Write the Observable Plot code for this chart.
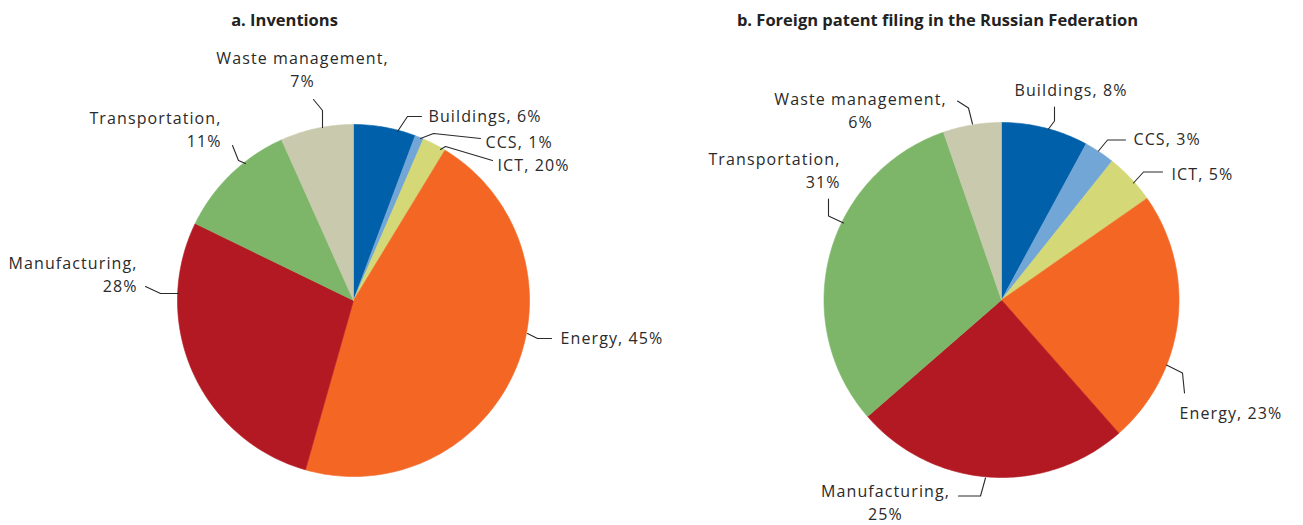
<!DOCTYPE html>
<html>
<head>
<meta charset="utf-8">
<script src="https://cdn.jsdelivr.net/npm/d3@7"></script>
<script src="https://cdn.jsdelivr.net/npm/@observablehq/plot@0.6"></script>
<style>
  html, body { margin: 0; padding: 0; background: #fff; }
  #chart svg text { letter-spacing: 1.1px; }
  #chart svg text.panel-title { letter-spacing: 0; }
</style>
</head>
<body>
<div id="chart"></div>
<script>
// ---------- data ----------
const categories = ["Buildings", "CCS", "ICT", "Energy", "Manufacturing", "Transportation", "Waste management"];
const colors = ["#0060a9", "#72a6d7", "#d4d877", "#f36624", "#b31922", "#7db669", "#c8c9ad"];

const panelTitles = ["a. Inventions", "b. Foreign patent filing in the Russian Federation"];

// shares (percent)
const inventionsShare = [5.7, 0.8, 2.2, 45.7, 27.8, 11.1, 6.7];
const russiaShare     = [7.9, 2.8, 4.6, 23.2, 25.1, 31.1, 5.3];

// printed labels (as in the original, incl. "ICT, 20%")
const inventionsLabels = ["6%", "1%", "20%", "45%", "28%", "11%", "7%"];
const russiaLabels     = ["8%", "3%", "5%", "23%", "25%", "31%", "6%"];

// ---------- layout ----------
const W = 1303, H = 525;
const pies = [
  {cx: 353, cy: 300, r: 176, titleX: 284, share: inventionsShare, labels: inventionsLabels},
  {cx: 1001, cy: 299.5, r: 177.5, titleX: 937, share: russiaShare, labels: russiaLabels}
];
// label placement relative to pie centre: text position, anchor, line break, leader polyline
const labelLayout = [
  [ // a
    {pos: [75, -186], anchor: "start", br: false, leader: [[44, -169], [54, -184], [68, -184]]},
    {pos: [132, -160], anchor: "start", br: false, leader: [[67, -162], [80, -167], [127, -162]]},
    {pos: [144, -137], anchor: "start", br: false, leader: [[87, -151], [92, -154], [139, -140]]},
    {pos: [207, 36], anchor: "start", br: false, leader: [[174, 33], [184, 38], [198, 38]]},
    {pos: [-216, -27], anchor: "end", br: true, leader: [[-175, -7], [-193, -7], [-208, -14]]},
    {pos: [-132, -172], anchor: "end", br: true, leader: [[-108, -137], [-115, -140], [-121, -155]]},
    {pos: [-51, -232], anchor: "middle", br: true, leader: [[-31, -173], [-31, -190], [-40, -201]]}
  ],
  [ // b
    {pos: [13, -211], anchor: "start", br: false, leader: [[47, -171], [53, -179], [53, -193]]},
    {pos: [132, -162], anchor: "start", br: false, leader: [[97, -149], [106, -160], [124, -160]]},
    {pos: [170, -127], anchor: "start", br: false, leader: [[132, -117], [142, -128], [161, -128]]},
    {pos: [178, 112], anchor: "start", br: false, leader: [[165, 65], [181, 73], [183, 93]]},
    {pos: [-116, 201], anchor: "middle", br: true, leader: [[-16, 178], [-21, 196], [-43, 196]]},
    {pos: [-161, -131], anchor: "end", br: true, leader: [[-158, -77], [-173, -84], [-173, -101]]},
    {pos: [-141, -191], anchor: "middle", br: true, leader: [[-29, -176], [-33, -192], [-44, -199]]}
  ]
];

// ---------- build geometry from the data ----------
const slicePts = [], leaderPts = [], labelRows = [], titleRows = [];
pies.forEach((p, pi) => {
  const total = d3.sum(p.share);
  let a0 = 0;
  p.share.forEach((v, i) => {
    const a1 = a0 + v / total * 2 * Math.PI;
    const key = pi + "-" + i;
    slicePts.push({key, cat: categories[i], x: p.cx, y: p.cy});
    const n = Math.max(2, Math.ceil((a1 - a0) / (Math.PI / 180)));
    for (let k = 0; k <= n; k++) {
      const a = a0 + (a1 - a0) * k / n;
      slicePts.push({key, cat: categories[i], x: p.cx + p.r * Math.sin(a), y: p.cy - p.r * Math.cos(a)});
    }
    slicePts.push({key, cat: categories[i], x: p.cx, y: p.cy});
    a0 = a1;

    const L = labelLayout[pi][i];
    L.leader.forEach(([dx, dy]) => leaderPts.push({key, x: p.cx + dx, y: p.cy + dy}));
    labelRows.push({
      x: p.cx + L.pos[0], y: p.cy + L.pos[1], anchor: L.anchor,
      text: categories[i] + "," + (L.br ? "\n" : " ") + p.labels[i]
    });
  });
  titleRows.push({x: p.titleX, y: 20, text: panelTitles[pi]});
});

const font = "'Open Sans', 'Noto Sans', sans-serif";
const textMark = anchor => Plot.text(labelRows.filter(d => d.anchor === anchor), {
  x: "x", y: "y", text: "text", textAnchor: anchor, lineAnchor: "middle",
  lineHeight: 1.42, fontSize: 16, fill: "#2a2a2a", fontFamily: font
});

const chart = Plot.plot({
  width: W, height: H,
  margin: 0,
  x: {domain: [0, W], range: [0, W], axis: null},
  y: {domain: [0, H], range: [0, H], axis: null},
  color: {domain: categories, range: colors},
  style: {background: "#fff", fontFamily: font},
  marks: [
    Plot.line(slicePts, {x: "x", y: "y", z: "key", fill: "cat", stroke: "cat", strokeWidth: 0.6, curve: "linear"}),
    Plot.line(leaderPts, {x: "x", y: "y", z: "key", stroke: "#2a2a2a", strokeWidth: 1.1}),
    textMark("start"), textMark("end"), textMark("middle"),
    Plot.text(titleRows, {x: "x", y: "y", text: "text", fontSize: 16.5, fontWeight: "bold",
      fill: "#222", fontFamily: font, lineAnchor: "middle"})
  ]
});
d3.select(chart).selectAll("text")
  .filter(function () { return panelTitles.includes(this.textContent); })
  .classed("panel-title", true);
document.getElementById("chart").appendChild(chart);
</script>
</body>
</html>
